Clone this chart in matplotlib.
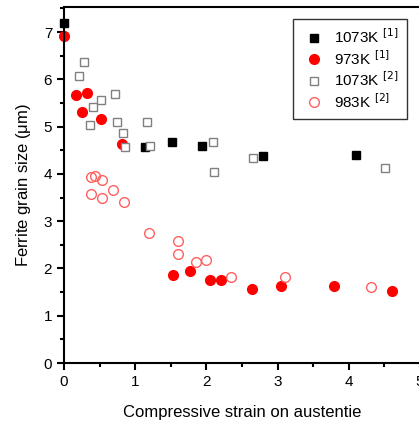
import numpy as np
import matplotlib
matplotlib.use("Agg")
import matplotlib.pyplot as plt
from matplotlib.ticker import MultipleLocator

plt.rcParams['font.family'] = ['Liberation Sans', 'DejaVu Sans']

# 1073K [1]
x_1073_a = [0.0, 1.14, 1.52, 1.94, 2.80, 4.10]
y_1073_a = [7.2, 4.57, 4.68, 4.58, 4.38, 4.40]

# 973K [1]
x_973 = [0.0, 0.17, 0.33, 0.25, 0.52, 0.82, 1.53, 1.77, 2.05, 2.20, 2.64, 3.05, 3.79, 4.60]
y_973 = [6.92, 5.67, 5.72, 5.31, 5.17, 4.64, 1.86, 1.95, 1.75, 1.75, 1.57, 1.63, 1.63, 1.52]

# 1073K [2]
x_1073_b = [0.21, 0.28, 0.41, 0.37, 0.52, 0.71, 0.74, 0.83, 0.85, 1.17, 1.21, 2.09, 2.10, 2.66, 4.51]
y_1073_b = [6.07, 6.36, 5.41, 5.03, 5.56, 5.70, 5.09, 4.87, 4.57, 5.09, 4.59, 4.68, 4.04, 4.33, 4.13]

# 983K [2]
x_983 = [0.38, 0.43, 0.53, 0.38, 0.53, 0.69, 0.84, 1.20, 1.60, 1.60, 1.86, 2.00, 2.35, 3.11, 4.31]
y_983 = [3.94, 3.95, 3.88, 3.58, 3.48, 3.65, 3.40, 2.75, 2.57, 2.30, 2.13, 2.18, 1.82, 1.82, 1.60]

fig = plt.figure(figsize=(4.19, 4.23), dpi=100)
ax = fig.add_axes([64/419, 60/423, 356/419, 356/423])

ax.plot(x_1073_a, y_1073_a, 's', color='black', ms=6, clip_on=False, label='1073K $^{[1]}$')
ax.plot(x_973, y_973, 'o', color='#ff0000', ms=7, clip_on=False, label='973K $^{[1]}$')
ax.plot(x_1073_b, y_1073_b, 's', mfc='white', mec='#808080', mew=1.0, ms=6, label='1073K $^{[2]}$')
ax.plot(x_983, y_983, 'o', mfc='none', mec='#ff6060', mew=1.0, ms=7, label='983K $^{[2]}$')

ax.set_xlim(0, 5)
ax.set_ylim(0, 7.53)
ax.xaxis.set_major_locator(MultipleLocator(1))
ax.xaxis.set_minor_locator(MultipleLocator(0.5))
ax.yaxis.set_major_locator(MultipleLocator(1))
ax.yaxis.set_minor_locator(MultipleLocator(0.5))
ax.tick_params(which='major', direction='out', length=5, width=1.5, labelsize=11)
ax.tick_params(which='minor', direction='out', length=3, width=1.5)
ax.tick_params(top=False, right=False)
for s in ax.spines.values():
    s.set_linewidth(1.5)

ax.set_xlabel('Compressive strain on austentie', fontsize=12, labelpad=12)
ax.set_ylabel('Ferrite grain size ($\\mathregular{\\mu}$m)', fontsize=12, labelpad=8)

leg = ax.legend(loc='upper right', bbox_to_anchor=(0.963, 0.966), fontsize=11,
                frameon=True, fancybox=False, edgecolor='black', handletextpad=0.5,
                handlelength=1.6, borderpad=0.55, labelspacing=0.18, borderaxespad=0)
leg.get_frame().set_linewidth(1.0)

fig.savefig('out.png', dpi=100)
